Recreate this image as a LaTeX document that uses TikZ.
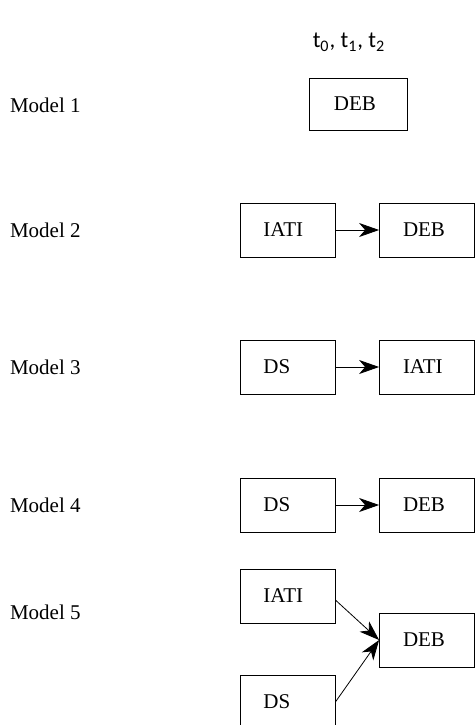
\documentclass[tikz,border=0pt]{standalone}
\usepackage{fontspec}
\setmainfont{Liberation Serif}
\newfontfamily\timefont{Carlito}
\usetikzlibrary{positioning}
\usetikzlibrary{arrows.meta}
\tikzset{node distance=69.75pt,
    var/.style={
        draw,
        thin,
        minimum width=47.5pt,
        minimum height=27pt,
        text width=24pt,
        inner xsep=11.5pt,
        align=left,
        font=\fontsize{10.5}{12}\selectfont},
    model/.style={
        anchor=west,
        font=\fontsize{10.5}{12}\selectfont},
    every edge/.style={
        draw,
        -{Stealth[length=10pt,width=7pt,inset=3pt]},
        thin}}

\begin{document}
\begin{tikzpicture}[x=0.5pt,y=-0.5pt]
        \useasboundingbox (0,0) rectangle (475,725);
        \node (time) at (349,42) {\timefont\fontsize{11.5}{13}\selectfont t\textsubscript{0}, t\textsubscript{1}, t\textsubscript{2}};

        \node[model] (model1) at (3,105) {Model 1};
        \node[model] (model2) at (3,230) {Model 2};
        \node[model] (model3) at (3,367) {Model 3};
        \node[model] (model4) at (3,505) {Model 4};
        \node[model] (model5) at (3,612) {Model 5};

        \node[var,minimum width=49pt,minimum height=26pt] (m1deb) at (358,104) {DEB};

        \node[var] (m2iati) at (287.5,230) {IATI};
        \node[var,right of=m2iati] (m2deb) {DEB};

        \node[var] (m3ds) at (287.5,367) {DS};
        \node[var,right of=m3ds] (m3iati) {IATI};

        \node[var] (m4ds) at (287.5,505) {DS};
        \node[var,right of=m4ds] (m4deb) {DEB};

        \node[var] (m5iati) at (287.5,596) {IATI};
        \node[var] (m5ds) at (287.5,702) {DS};
        \node[var] (m5deb) at (427,640) {DEB};

        \draw (m2iati) edge[] (m2deb);
        \draw (m3ds) edge[] (m3iati);
        \draw (m4ds) edge[] (m4deb);
        \draw ([yshift=-2pt]m5iati.east) edge[] (m5deb.west);
        \draw (m5ds.east) edge[] (m5deb.west);
    \end{tikzpicture}
\end{document}
